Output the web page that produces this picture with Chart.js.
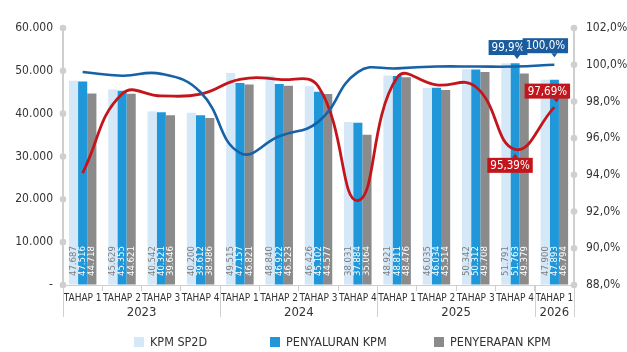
<!DOCTYPE html>
<html>
<head>
<meta charset="utf-8">
<script src="https://cdn.jsdelivr.net/npm/chart.js@4.4.0/dist/chart.umd.min.js"></script>
<style>
  html, body { margin: 0; padding: 0; background: #fff; }
</style>
</head>
<body>
<canvas id="kpmChart" width="627" height="352"></canvas>
<script>
// Categories
var tahap = ['TAHAP 1', 'TAHAP 2', 'TAHAP 3', 'TAHAP 4',
             'TAHAP 1', 'TAHAP 2', 'TAHAP 3', 'TAHAP 4',
             'TAHAP 1', 'TAHAP 2', 'TAHAP 3', 'TAHAP 4',
             'TAHAP 1'];
var tahun = ['2023', '2024', '2025', '2026'];
var tahapPerTahun = [4, 4, 4, 1];

// Bar series (KPM)
var kpmSp2d      = [47687, 45629, 40542, 40200, 49515, 48840, 46426, 38031, 48921, 46035, 50342, 51791, 47900];
var penyaluranKpm = [47516, 45355, 40321, 39612, 47157, 46922, 45102, 37884, 48811, 46034, 50312, 51763, 47893];
var penyerapanKpm = [44718, 44621, 39646, 38986, 46821, 46523, 44577, 35064, 48476, 45514, 49708, 49379, 46794];

// Line series (%)
var pctPenyaluran = [99.6, 99.4, 99.5, 98.5, 95.2, 96.1, 96.9, 99.6, 99.8, 99.9, 99.9, 99.9, 100.0];
var pctPenyerapan = [94.1, 98.4, 98.3, 98.4, 99.2, 99.2, 98.8, 92.6, 99.3, 98.9, 98.8, 95.39, 97.69];

var FONT = "'Liberation Sans Narrow', 'DejaVu Sans Condensed', 'Roboto', sans-serif";
var C_LIGHT = '#d5e8f8', C_BLUE = '#1f97d8', C_GRAY = '#8c8b8b';
var C_LINE_BLUE = '#1761a7', C_LINE_RED = '#c3161c';
var C_AXIS = '#cfcfcf';

function ribuan(v) {
  return Math.round(v).toString().replace(/\B(?=(\d{3})+(?!\d))/g, '.');
}
function persen(v, d) {
  return v.toFixed(d).replace('.', ',') + '%';
}

Chart.defaults.font.family = FONT;
Chart.defaults.color = '#333';

var kpmDecor = {
  id: 'kpmDecor',
  // values written vertically inside each bar
  afterDatasetDraw: function (chart, args) {
    if (args.index > 2) return;
    var ctx = chart.ctx;
    var warna = ['#7d7d7d', '#ffffff', '#ffffff'];
    var bottom = chart.chartArea.bottom;
    ctx.save();
    ctx.font = '9.5px ' + FONT;
    ctx.fillStyle = warna[args.index];
    ctx.textAlign = 'left';
    ctx.textBaseline = 'middle';
    args.meta.data.forEach(function (bar, i) {
      ctx.save();
      ctx.translate(bar.x, bottom - 9);
      ctx.rotate(-Math.PI / 2);
      ctx.fillText(ribuan(chart.data.datasets[args.index].data[i]), 0, 0);
      ctx.restore();
    });
    ctx.restore();
  },
  afterDraw: function (chart) {
    var ctx = chart.ctx;
    var x = chart.scales.x, y = chart.scales.y, y1 = chart.scales.y1;
    var area = chart.chartArea;
    var lebar = x.getPixelForValue(1) - x.getPixelForValue(0);

    ctx.save();
    // year separators and labels
    ctx.strokeStyle = C_AXIS;
    ctx.lineWidth = 1;
    ctx.fillStyle = '#333';
    ctx.font = '13px ' + FONT;
    ctx.textAlign = 'center';
    ctx.textBaseline = 'middle';
    var mulai = 0;
    tahun.forEach(function (t, k) {
      var x0 = x.getPixelForValue(mulai) - lebar / 2;
      var x1 = x.getPixelForValue(mulai + tahapPerTahun[k] - 1) + lebar / 2;
      ctx.beginPath();
      ctx.moveTo(Math.round(x0) + 0.5, area.bottom);
      ctx.lineTo(Math.round(x0) + 0.5, area.bottom + 32);
      if (k === tahun.length - 1) {
        ctx.moveTo(Math.round(x1) + 0.5, area.bottom);
        ctx.lineTo(Math.round(x1) + 0.5, area.bottom + 32);
      }
      ctx.stroke();
      ctx.fillText(t, (x0 + x1) / 2, area.bottom + 28);
      mulai += tahapPerTahun[k];
    });

    // round markers on both value axes
    ctx.fillStyle = C_AXIS;
    y.ticks.forEach(function (tk) {
      ctx.beginPath();
      ctx.arc(area.left, y.getPixelForValue(tk.value), 3.3, 0, Math.PI * 2);
      ctx.fill();
    });
    y1.ticks.forEach(function (tk) {
      ctx.beginPath();
      ctx.arc(area.right, y1.getPixelForValue(tk.value), 3.3, 0, Math.PI * 2);
      ctx.fill();
    });

    // value callouts on the lines
    var callouts = chart.options.plugins.kpmDecor.callouts;
    ctx.font = '11.5px ' + FONT;
    callouts.forEach(function (c) {
      var pt = chart.getDatasetMeta(c.dataset).data[c.index];
      var val = chart.data.datasets[c.dataset].data[c.index];
      var teks = persen(val, c.digits);
      var w = ctx.measureText(teks).width + 6;
      var h = 15;
      var cx = pt.x + c.dx, cy = pt.y + c.dy;
      ctx.fillStyle = c.color;
      ctx.fillRect(cx - w / 2, cy - h / 2, w, h);
      ctx.beginPath();
      if (c.dy < 0) {
        ctx.moveTo(pt.x + c.px - 3, cy + h / 2);
        ctx.lineTo(pt.x + c.px + 3, cy + h / 2);
        ctx.lineTo(pt.x + c.px, cy + h / 2 + 4);
      } else {
        ctx.moveTo(pt.x + c.px - 3, cy - h / 2);
        ctx.lineTo(pt.x + c.px + 3, cy - h / 2);
        ctx.lineTo(pt.x + c.px, cy - h / 2 - 4);
      }
      ctx.fill();
      ctx.fillStyle = '#fff';
      ctx.textAlign = 'center';
      ctx.fillText(teks, cx, cy + 0.5);
    });

    // legend for the bar series
    var legendX = [134, 270, 434];
    ctx.font = '12.5px ' + FONT;
    ctx.textAlign = 'left';
    [0, 1, 2].forEach(function (d) {
      var ds = chart.data.datasets[d];
      ctx.fillStyle = ds.backgroundColor;
      ctx.fillRect(legendX[d], 337, 10, 10);
      ctx.fillStyle = '#333';
      ctx.fillText(ds.label, legendX[d] + 16, 342.5);
    });
    ctx.restore();
  }
};

new Chart(document.getElementById('kpmChart'), {
  type: 'bar',
  data: {
    labels: tahap,
    datasets: [
      { label: 'KPM SP2D', data: kpmSp2d, backgroundColor: C_LIGHT, yAxisID: 'y', order: 1 },
      { label: 'PENYALURAN KPM', data: penyaluranKpm, backgroundColor: C_BLUE, yAxisID: 'y', order: 1 },
      { label: 'PENYERAPAN KPM', data: penyerapanKpm, backgroundColor: C_GRAY, yAxisID: 'y', order: 1 },
      { type: 'line', label: '% Penyaluran', data: pctPenyaluran, borderColor: C_LINE_BLUE,
        borderWidth: 2.6, pointRadius: 0, tension: 0.45, yAxisID: 'y1', order: 0 },
      { type: 'line', label: '% Penyerapan', data: pctPenyerapan, borderColor: C_LINE_RED,
        borderWidth: 2.8, pointRadius: 0, tension: 0.45, yAxisID: 'y1', order: 0 }
    ]
  },
  options: {
    responsive: false,
    animation: false,
    datasets: { bar: { barPercentage: 1, categoryPercentage: 0.7 } },
    layout: { padding: { top: 28, bottom: 27, left: 0, right: 0 } },
    plugins: {
      legend: { display: false },
      tooltip: { enabled: false },
      kpmDecor: {
        callouts: [
          { dataset: 3, index: 11, dx: -7, dy: -19, px: 2, digits: 1, color: '#1a5c9e' },
          { dataset: 3, index: 12, dx: -9, dy: -19, px: 0, digits: 1, color: '#1a5c9e' },
          { dataset: 4, index: 12, dx: -7, dy: -16, px: 2, digits: 2, color: C_LINE_RED },
          { dataset: 4, index: 11, dx: -5, dy: 16, px: 0, digits: 2, color: C_LINE_RED }
        ]
      }
    },
    scales: {
      x: {
        offset: true,
        grid: { offset: true, drawOnChartArea: false, tickLength: 6, color: C_AXIS },
        border: { color: C_AXIS, width: 1 },
        ticks: { font: { size: 10 }, color: '#333', maxRotation: 0, autoSkip: false, padding: 1 },
        afterFit: function (s) { s.height = 40; }
      },
      y: {
        position: 'left',
        min: 0, max: 60000,
        ticks: { stepSize: 10000, padding: 10, font: { size: 12 }, color: '#333',
                 callback: function (v) { return v === 0 ? '-' : ribuan(v); } },
        grid: { drawOnChartArea: false, drawTicks: false },
        border: { color: C_AXIS, width: 2 },
        afterFit: function (s) { s.width = 63; }
      },
      y1: {
        position: 'right',
        min: 88, max: 102,
        ticks: { stepSize: 2, padding: 12, font: { size: 12 }, color: '#333',
                 callback: function (v) { return persen(v, 1); } },
        grid: { drawOnChartArea: false, drawTicks: false },
        border: { color: C_AXIS, width: 2 },
        afterFit: function (s) { s.width = 53; }
      }
    }
  },
  plugins: [kpmDecor]
});
</script>
</body>
</html>
